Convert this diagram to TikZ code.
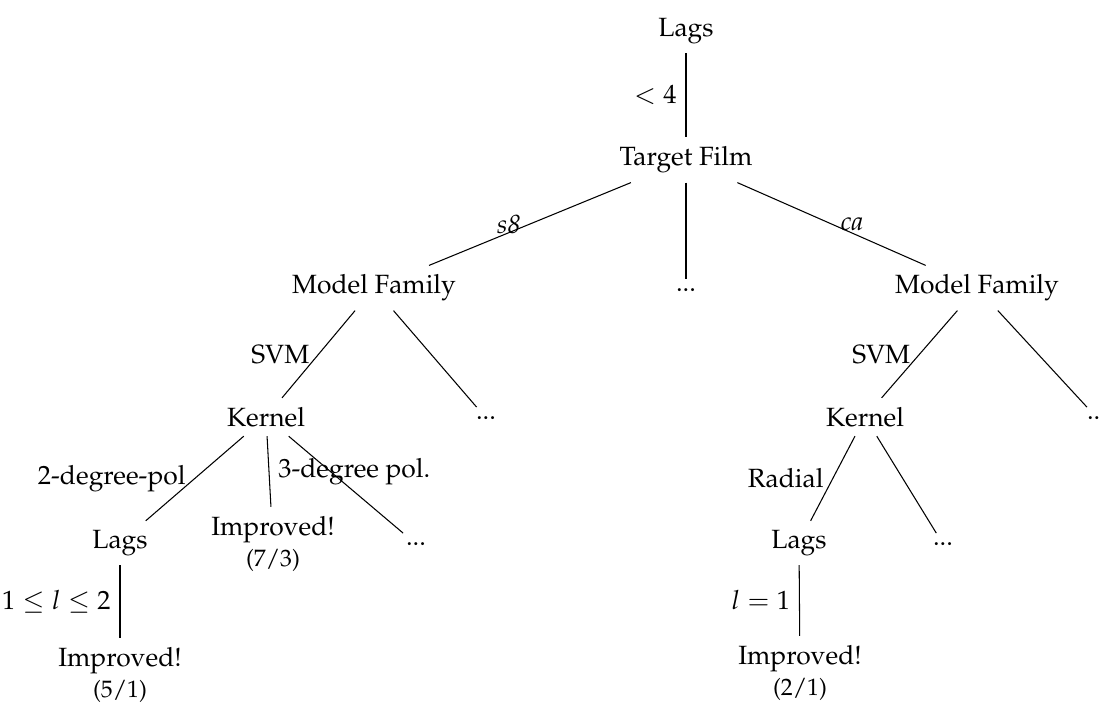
\documentclass[tikz,border=0pt]{standalone}
\usepackage[T1]{fontenc}
\usepackage{amsmath}
\usepackage{amssymb}
\usepackage{mathpazo}
\usepackage{tikz}

\begin{document}
\begin{tikzpicture}[x=0.3788pt,y=-0.3788pt,
    nodes={align=center},
    lbl/.style={midway}]
\useasboundingbox (0,0) rectangle (1102,704);
\path node (lags) at (686,31) {Lags}
    node (film) at (686,160) {Target Film}
    node (famA) at (374,288) {Model Family}
    node (dotsA) at (686,290) {...}
    node (famB) at (977,288) {Model Family}
    node (kerA) at (266,417) {Kernel}
    node (dotsB) at (486,418) {...}
    node (kerB) at (865,417) {Kernel}
    node (dotsC) at (1097,418) {...}
    node (lagsA) at (120,543) {Lags}
    node (impA) at (273,544) {Improved!\\{\small (7/3)}}
    node (dotsD) at (416,544) {...}
    node (lagsB) at (799,543) {Lags}
    node (dotsE) at (943,544) {...}
    node (impB) at (120,675) {Improved!\\{\small (5/1)}}
    node (impC) at (800,673) {Improved!\\{\small (2/1)}};

\draw (lags) -- node[lbl,left] {$<4$} (film);
\draw (film) -- node[lbl,left] {\textit{s8}} (famA);
\draw (film) -- (dotsA);
\draw (film) -- node[lbl,right] {\textit{ca}} (famB);
\draw (famA) -- node[lbl,left] {SVM} (kerA);
\draw (famA) -- (dotsB);
\draw (famB) -- node[lbl,left] {SVM} (kerB);
\draw (famB) -- (dotsC);
\draw (kerA) -- node[lbl,left] {2-degree-pol} (lagsA);
\draw (kerA) -- node[lbl,right] {3-degree pol.} (impA);
\draw (kerA) -- (dotsD);
\draw (kerB) -- node[lbl,left] {Radial} (lagsB);
\draw (kerB) -- (dotsE);
\draw (lagsA) -- node[lbl,left] {$1\leq l\leq 2$} (impB);
\draw (lagsB) -- node[lbl,left] {$l=1$} (impC);
\end{tikzpicture}
\end{document}
